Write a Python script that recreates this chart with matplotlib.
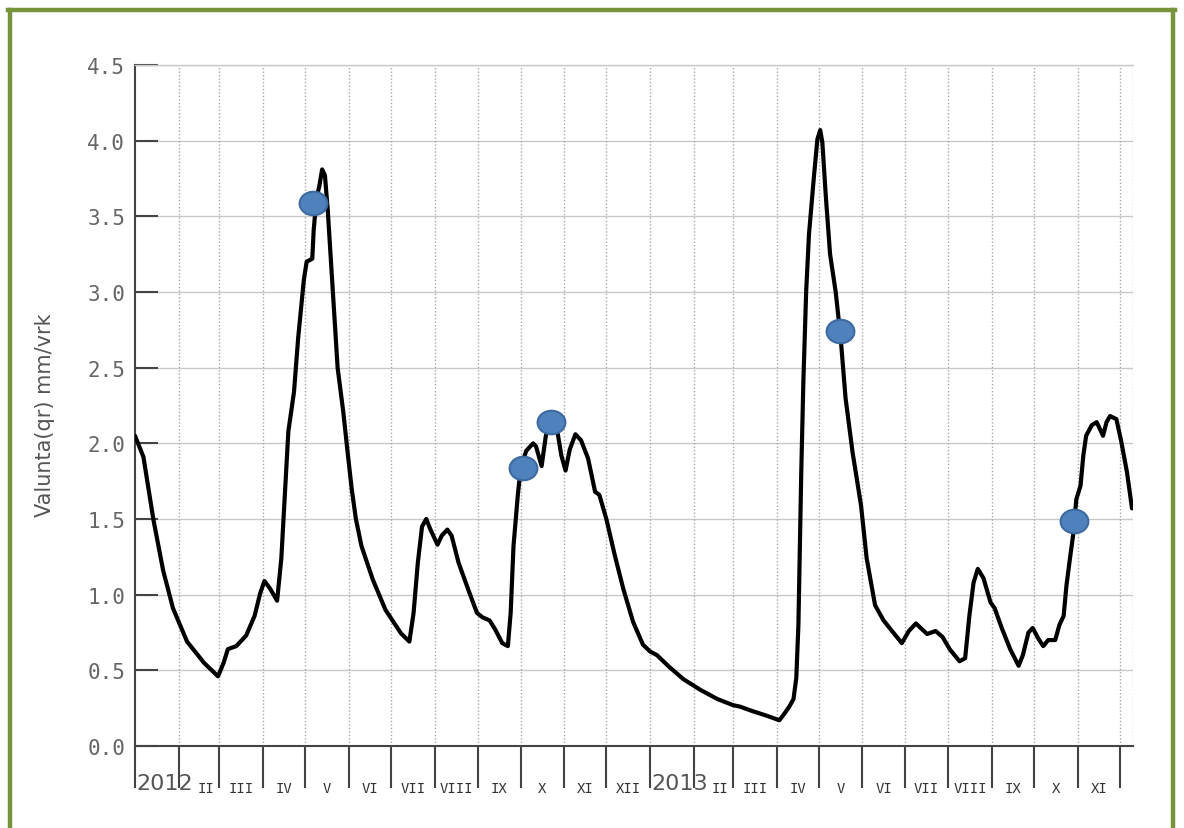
import matplotlib
matplotlib.use("Agg")
import matplotlib.pyplot as plt
from matplotlib.path import Path
from matplotlib.transforms import Affine2D
from matplotlib.lines import Line2D
from matplotlib.markers import MarkerStyle

# ---- data (days since 2012-01-01, runoff mm/vrk) ----
days = [0, 6, 13, 20, 27, 37, 49, 59, 63, 66, 72, 79, 85, 89, 92, 96, 101, 104, 107, 109,
        113, 116, 120, 122, 126, 127, 129, 131, 133, 135, 137, 141, 144, 148, 151, 154, 157,
        161, 169, 178, 189, 195, 198, 201, 204, 207, 210, 215, 218, 222, 225, 230, 237, 243,
        247, 252, 256, 261, 265, 267, 269, 272, 274, 278, 283, 285, 289, 292, 295, 300, 303,
        306, 309, 313, 317, 322, 327, 330, 335, 341, 347, 354, 361, 366, 371, 380, 390, 402,
        414, 425, 430, 439, 449, 458, 462, 465, 468, 470, 471.5, 472.5, 473.5, 475, 477, 479,
        482.5, 485, 487, 488.5, 491, 494, 498, 501.5, 505, 510, 516, 520, 526, 532, 538, 545,
        550, 555, 559.5, 563, 569, 574, 579, 586, 590, 593, 596, 599, 603, 608, 611, 616, 622,
        628, 631, 635, 638, 642, 645.5, 649, 654, 657, 660, 662, 664.5, 667, 669, 672, 674,
        676, 680, 683.5, 686, 688, 690.5, 693, 697.5, 701, 705, 708.6]
values = [2.05, 1.91, 1.50, 1.16, 0.91, 0.69, 0.55, 0.46, 0.55, 0.64, 0.66, 0.73, 0.86, 1.01,
          1.09, 1.04, 0.96, 1.24, 1.75, 2.08, 2.34, 2.70, 3.08, 3.20, 3.22, 3.41, 3.62, 3.70,
          3.81, 3.77, 3.54, 2.95, 2.50, 2.21, 1.95, 1.70, 1.50, 1.32, 1.10, 0.90, 0.745, 0.69,
          0.88, 1.21, 1.45, 1.50, 1.43, 1.33, 1.39, 1.43, 1.39, 1.21, 1.03, 0.88, 0.85, 0.83,
          0.77, 0.68, 0.66, 0.88, 1.32, 1.65, 1.83, 1.95, 2.00, 1.98, 1.85, 2.05, 2.15, 2.09,
          1.92, 1.82, 1.96, 2.06, 2.02, 1.90, 1.68, 1.66, 1.50, 1.26, 1.04, 0.82, 0.67, 0.625,
          0.60, 0.52, 0.44, 0.37, 0.31, 0.27, 0.26, 0.23, 0.20, 0.17, 0.22, 0.26, 0.31, 0.45,
          0.80, 1.30, 1.80, 2.40, 3.00, 3.38, 3.76, 4.01, 4.07, 3.99, 3.63, 3.25, 3.00, 2.70,
          2.30, 1.94, 1.59, 1.24, 0.93, 0.83, 0.76, 0.68, 0.76, 0.81, 0.77, 0.74, 0.76, 0.72,
          0.64, 0.56, 0.58, 0.86, 1.08, 1.17, 1.11, 0.95, 0.91, 0.78, 0.64, 0.53, 0.60, 0.75,
          0.78, 0.71, 0.66, 0.70, 0.70, 0.80, 0.86, 1.06, 1.24, 1.41, 1.63, 1.72, 1.92, 2.05,
          2.12, 2.14, 2.09, 2.05, 2.14, 2.18, 2.16, 2.01, 1.81, 1.57]

marker_days = [126.5, 276, 296, 501, 667.5]
marker_vals = [3.59, 1.84, 2.14, 2.74, 1.49]

month_starts = [0, 31, 60, 91, 121, 152, 182, 213, 244, 274, 305, 335,
                366, 397, 425, 456, 486, 517, 547, 578, 609, 639, 670, 700]
month_labels = ["2012", "II", "III", "IV", "V", "VI", "VII", "VIII", "IX", "X", "XI", "XII",
                "2013", "II", "III", "IV", "V", "VI", "VII", "VIII", "IX", "X", "XI"]
x_end = 709.3
y_ticks = [0.0, 0.5, 1.0, 1.5, 2.0, 2.5, 3.0, 3.5, 4.0, 4.5]
y_label = "Valunta(qr) mm/vrk"

# ---- figure ----
W, H = 1184, 829
fig = plt.figure(figsize=(W / 100, H / 100), dpi=100)
fig.patch.set_facecolor("white")
ax = fig.add_axes([135 / W, (H - 747) / H, (1133 - 135) / W, (747 - 66) / H])

# grid
for yv in y_ticks[1:]:
    ax.axhline(yv, color="#c8c8c8", lw=1.0, zorder=0)
for d in month_starts[1:] + [x_end]:
    ax.axvline(d, color="#a8a8a8", lw=1.0, ls=(0, (1, 1.5)), zorder=0)

ax.plot(days, values, color="black", lw=3.0, solid_joinstyle="round",
        solid_capstyle="round", zorder=3)

ell = Path.unit_circle().transformed(Affine2D().scale(1.18, 1.0))
ax.plot(marker_days, marker_vals, ls="none", marker=MarkerStyle(ell), markersize=20,
        markerfacecolor="#4f81bd", markeredgecolor="#3d6aa0", markeredgewidth=1.5, zorder=4)

ax.set_xlim(0, x_end)
ax.set_ylim(0, 4.5)

ax.set_yticks(y_ticks)
ax.set_yticklabels([f"{v:.1f}" for v in y_ticks], family="DejaVu Sans Mono",
                   fontsize=15, color="#666666")
ax.tick_params(axis="y", direction="in", length=16.5, width=1.5, color="#444444", pad=7)

ax.set_xticks(month_starts)
ax.set_xticklabels([])
ax.tick_params(axis="x", direction="out", length=30, width=1.5, color="#444444")

for s in ["left", "bottom"]:
    ax.spines[s].set_color("#444444")
    ax.spines[s].set_linewidth(1.5)
ax.spines["top"].set_color("#c8c8c8")
ax.spines["top"].set_linewidth(1.0)
ax.spines["right"].set_visible(False)

for i, lab in enumerate(month_labels):
    if lab.isdigit():
        ax.annotate(lab, xy=(month_starts[i], 0), xycoords=("data", "axes fraction"),
                    xytext=(1, -27), textcoords="offset points", ha="left", va="center",
                    fontsize=16, color="#555555", zorder=5)
    else:
        c = (month_starts[i] + month_starts[i + 1]) / 2
        if month_labels[i - 1].isdigit():
            c += 5
        ax.annotate(lab, xy=(c, 0), xycoords=("data", "axes fraction"),
                    xytext=(0, -30), textcoords="offset points", ha="center", va="center",
                    family="DejaVu Sans Mono", fontsize=10, color="#333333")

fig.text(45 / W, 1 - 415 / H, y_label, rotation=90, ha="center", va="center",
         fontsize=15, color="#555555")

# green frame
gc = "#77933c"
fig.add_artist(Line2D([9.5 / W, 9.5 / W], [-0.05, 1 - 11 / H], transform=fig.transFigure,
                      color=gc, lw=3.2))
fig.add_artist(Line2D([7.5 / W, 1175 / W], [1 - 11 / H, 1 - 11 / H], transform=fig.transFigure,
                      color=gc, lw=3.2))
fig.add_artist(Line2D([1173 / W, 1173 / W], [-0.05, 1 - 11 / H], transform=fig.transFigure,
                      color=gc, lw=3.2))

fig.savefig("out.png", dpi=100)
